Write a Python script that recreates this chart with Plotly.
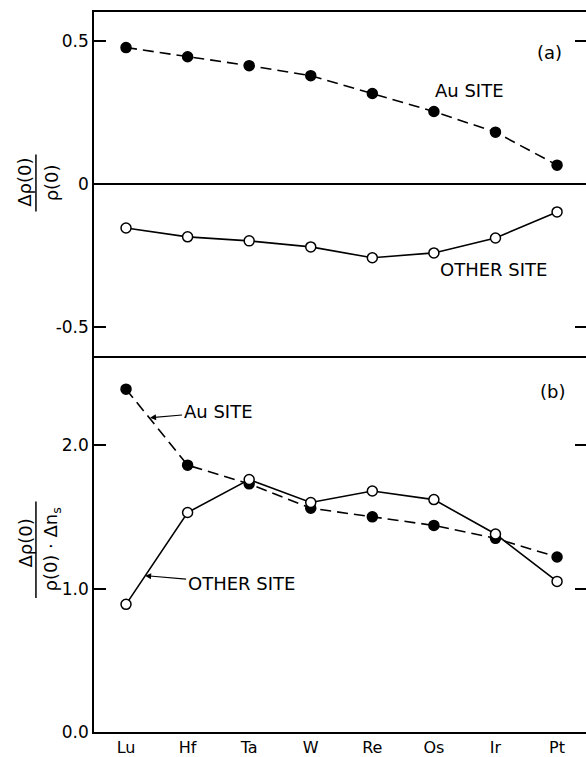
import plotly.graph_objects as go

# ---- data ----
elements = ["Lu", "Hf", "Ta", "W", "Re", "Os", "Ir", "Pt"]
a_au_site = [0.476, 0.444, 0.413, 0.378, 0.316, 0.253, 0.181, 0.066]
a_other_site = [-0.153, -0.184, -0.198, -0.219, -0.257, -0.240, -0.188, -0.097]
b_au_site = [2.39, 1.86, 1.73, 1.56, 1.50, 1.44, 1.35, 1.22]
b_other_site = [0.89, 1.53, 1.76, 1.60, 1.68, 1.62, 1.38, 1.05]
top_tickvals = [-0.5, 0, 0.5]
top_ticktext = ["-0.5", "0", "0.5"]
bot_tickvals = [0, 1, 2]
bot_ticktext = ["0.0", "1.0", "2.0"]
top_right_ticks = [-0.5, 0.5]
bot_right_ticks = [1, 2]

xpos = list(range(len(elements)))
FONT = "DejaVu Sans"
BLACK = "black"

fig = go.Figure()

filled = dict(symbol="circle", size=10, color=BLACK, line=dict(color=BLACK, width=1.5))
hollow = dict(symbol="circle", size=10, color="white", line=dict(color=BLACK, width=1.5))
dashed = dict(color=BLACK, width=1.6, dash="11px,6px")
solid = dict(color=BLACK, width=1.6)

# panel (a)
fig.add_trace(go.Scatter(x=xpos, y=a_au_site, mode="lines+markers", line=dashed,
                         marker=filled, xaxis="x2", yaxis="y2", hoverinfo="skip"))
fig.add_trace(go.Scatter(x=xpos, y=a_other_site, mode="lines+markers", line=solid,
                         marker=hollow, xaxis="x2", yaxis="y2", hoverinfo="skip"))
# panel (b)
fig.add_trace(go.Scatter(x=xpos, y=b_au_site, mode="lines+markers", line=dashed,
                         marker=filled, xaxis="x", yaxis="y", hoverinfo="skip"))
fig.add_trace(go.Scatter(x=xpos, y=b_other_site, mode="lines+markers", line=solid,
                         marker=hollow, xaxis="x", yaxis="y", hoverinfo="skip"))
# invisible carriers so the right-hand tick axes are drawn
fig.add_trace(go.Scatter(x=xpos, y=a_au_site, mode="lines", opacity=0,
                         xaxis="x2", yaxis="y4", hoverinfo="skip"))
fig.add_trace(go.Scatter(x=xpos, y=b_au_site, mode="lines", opacity=0,
                         xaxis="x", yaxis="y3", hoverinfo="skip"))

xr = [-0.52, 7.47]
split = 0.522
axis_common = dict(showgrid=False, linecolor=BLACK, linewidth=1.5,
                   tickcolor=BLACK, tickwidth=1.5,
                   tickfont=dict(family=FONT, size=17, color=BLACK))

fig.update_layout(
    width=586, height=757,
    margin=dict(l=94, r=0, t=12, b=23),
    paper_bgcolor="white", plot_bgcolor="white",
    showlegend=False,
    font=dict(family=FONT, color=BLACK),
    xaxis=dict(domain=[0, 1], anchor="y", range=xr, tickvals=xpos, ticktext=elements,
               ticks="", showline=True, zeroline=False, showgrid=False,
               linecolor=BLACK, linewidth=1.5,
               tickfont=dict(family=FONT, size=16, color=BLACK)),
    yaxis=dict(domain=[0, split], anchor="x", range=[0, 2.62],
               tickvals=bot_tickvals, ticktext=bot_ticktext,
               ticks="inside", ticklen=12, showline=True, zeroline=False, **axis_common),
    xaxis2=dict(domain=[0, 1], anchor="y2", range=xr, matches="x",
                showticklabels=False, ticks="", showline=True, mirror=True,
                zeroline=False, showgrid=False, linecolor=BLACK, linewidth=1.5),
    yaxis2=dict(domain=[split, 1], anchor="x2", range=[-0.6, 0.6],
                tickvals=top_tickvals, ticktext=top_ticktext,
                ticks="inside", ticklen=12, showline=True,
                zeroline=True, zerolinecolor=BLACK, zerolinewidth=1.5, **axis_common),
    yaxis3=dict(overlaying="y", anchor="x", side="right", range=[0, 2.62],
                tickvals=bot_right_ticks, ticks="inside", ticklen=11, showticklabels=False,
                showline=False, zeroline=False, showgrid=False,
                tickcolor=BLACK, tickwidth=1.5),
    yaxis4=dict(overlaying="y2", anchor="x2", side="right", range=[-0.6, 0.6],
                tickvals=top_right_ticks, ticks="inside", ticklen=11, showticklabels=False,
                showline=False, zeroline=False, showgrid=False,
                tickcolor=BLACK, tickwidth=1.5),
)

lab = dict(family=FONT, size=18, color=BLACK)
ttl = dict(family=FONT, size=18, color=BLACK)
annos = [
    dict(x=6.88, y=0.458, xref="x2", yref="y2", text="(a)", showarrow=False, font=lab),
    dict(x=5.58, y=0.326, xref="x2", yref="y2", text="Au SITE", showarrow=False, font=lab),
    dict(x=5.96, y=-0.299, xref="x2", yref="y2", text="OTHER SITE", showarrow=False, font=lab),
    dict(x=6.93, y=2.375, xref="x", yref="y", text="(b)", showarrow=False, font=lab),
    dict(x=0.39, y=2.19, xref="x", yref="y", text="Au SITE", showarrow=True,
         ax=68, ay=-6, arrowhead=2, arrowsize=1, arrowwidth=1.2, arrowcolor=BLACK,
         font=lab, standoff=0),
    dict(x=0.31, y=1.09, xref="x", yref="y", text="OTHER SITE", showarrow=True,
         ax=96, ay=8, arrowhead=2, arrowsize=1, arrowwidth=1.2, arrowcolor=BLACK,
         font=lab, standoff=0),
    # y titles as stacked fractions
    dict(x=-0.140, y=0.763, xref="paper", yref="paper", text="Δρ(0)", textangle=-90,
         xanchor="center", yanchor="middle", showarrow=False, font=ttl),
    dict(x=-0.086, y=0.763, xref="paper", yref="paper", text="ρ(0)", textangle=-90,
         xanchor="center", yanchor="middle", showarrow=False, font=ttl),
    dict(x=-0.140, y=0.262, xref="paper", yref="paper", text="Δρ(0)", textangle=-90,
         xanchor="center", yanchor="middle", showarrow=False, font=ttl),
    dict(x=-0.086, y=0.253, xref="paper", yref="paper", text="ρ(0) · Δn<sub>s</sub>",
         textangle=-90, xanchor="center", yanchor="middle", showarrow=False, font=ttl),
]
fig.update_layout(annotations=annos)

fig.update_layout(shapes=[
    dict(type="line", xref="paper", yref="paper", x0=-0.118, x1=-0.118, y0=0.723, y1=0.802,
         line=dict(color=BLACK, width=1.5)),
    dict(type="line", xref="paper", yref="paper", x0=-0.118, x1=-0.118, y0=0.186, y1=0.320,
         line=dict(color=BLACK, width=1.5)),
])

fig.write_html("out.html")
